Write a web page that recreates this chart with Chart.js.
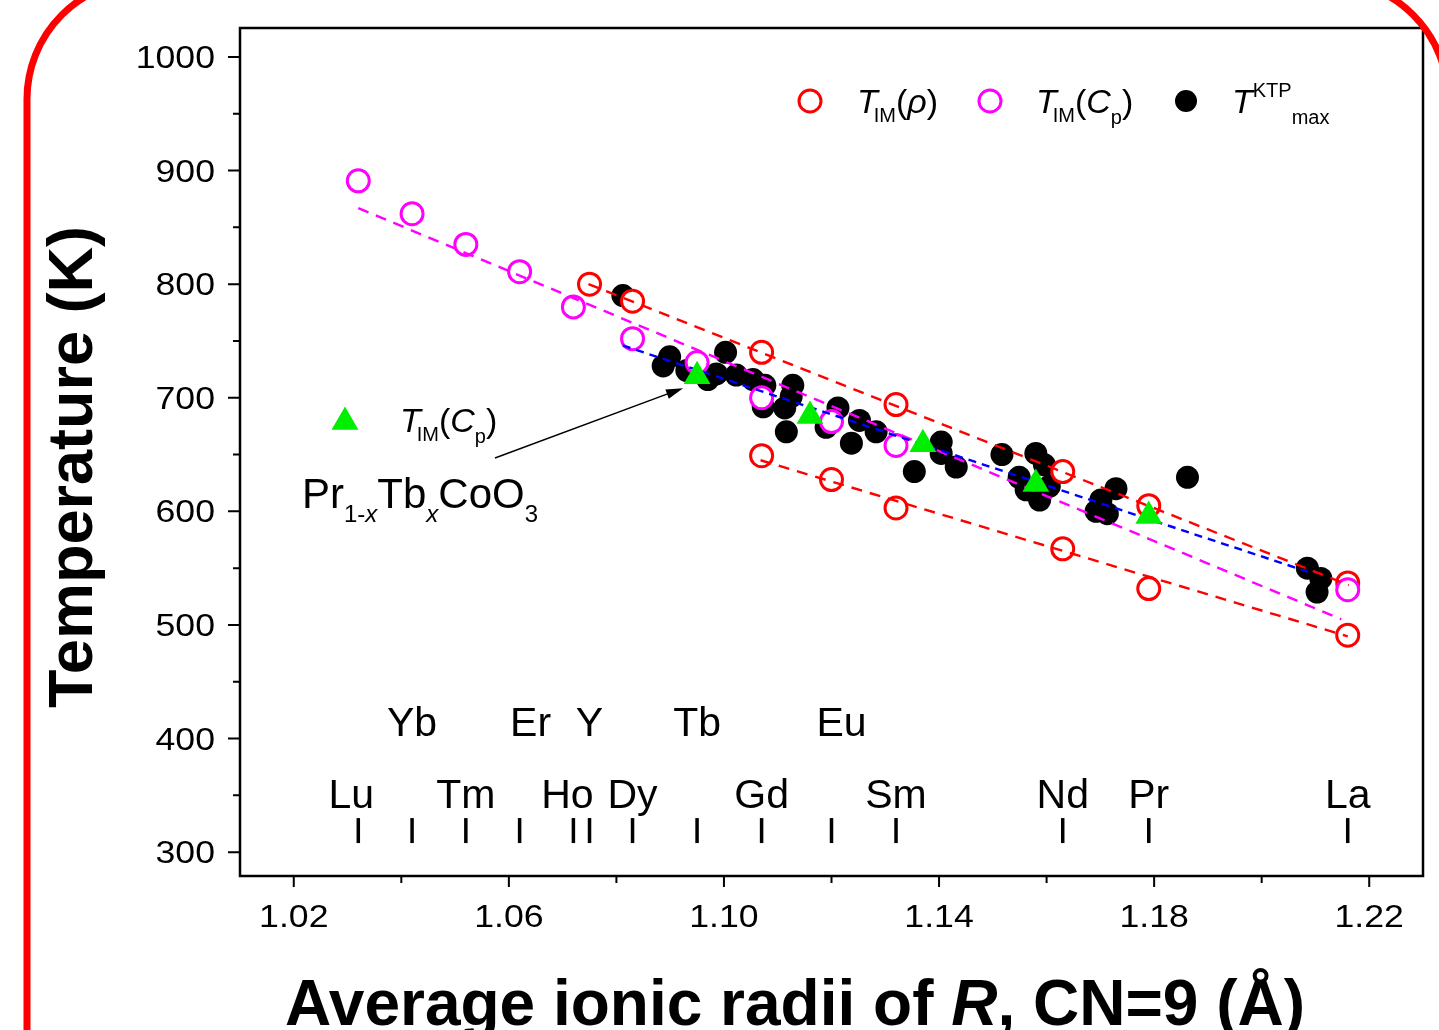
<!DOCTYPE html>
<html>
<head>
<meta charset="utf-8">
<script src="https://cdn.jsdelivr.net/npm/chart.js@4.4.1/dist/chart.umd.min.js"></script>
<style>
  html, body { margin: 0; padding: 0; background: #fff; }
  #wrap { width: 1439px; height: 1030px; position: relative; }
</style>
</head>
<body>
<div id="wrap"><canvas id="myChart"></canvas></div>
<script>
// T_IM from heat capacity (magenta open circles), RCoO3
const cpRadius = [1.032, 1.042, 1.052, 1.062, 1.072, 1.083, 1.095, 1.107, 1.120, 1.132, 1.216];
const cpTemp = [891, 862, 835, 811, 780, 752, 731, 700, 679, 658, 531];

// T_IM from resistivity (red open circles)
const rhoRadius = [1.075, 1.083, 1.107, 1.132, 1.163, 1.179, 1.216, 1.107, 1.120, 1.132, 1.163, 1.179, 1.216];
const rhoTemp = [800, 785, 740, 694, 635, 605, 537, 649, 628, 603, 567, 532, 491];

// T^KTP_max (black dots)
const ktpRadius = [1.0812, 1.0899, 1.0887, 1.0931, 1.0970, 1.0986, 1.1003, 1.1023, 1.1054, 1.1076,
  1.1073, 1.1128, 1.1125, 1.1113, 1.1116, 1.1190, 1.1212, 1.1237, 1.1252, 1.1283,
  1.1354, 1.1404, 1.1404, 1.1432, 1.1517, 1.1580, 1.1596, 1.1549, 1.1562, 1.1587,
  1.1605, 1.1729, 1.1701, 1.1692, 1.1713, 1.1862, 1.2085, 1.2110, 1.2103];
const ktpTemp = [790, 736, 728, 724, 716, 721, 740, 720, 716, 711,
  692, 711, 701, 691, 670, 674, 691, 660, 680, 670,
  635, 661, 651, 639, 650, 651, 641, 630, 619, 610,
  622, 620, 610, 600, 598, 630, 550, 541, 529];

// Pr1-xTbxCoO3, T_IM(Cp) (green triangles)
const prtbRadius = [1.095, 1.116, 1.137, 1.158, 1.179];
const prtbTemp = [719, 684, 659, 624, 596];

// dashed fit lines (end points)
const fitCpX = [1.032, 1.2148], fitCpY = [867, 505];
const fitRhoHiX = [1.0748, 1.2162], fitRhoHiY = [800, 535];
const fitRhoLoX = [1.1068, 1.216], fitRhoLoY = [645, 490];
const fitPrTbX = [1.0812, 1.2085], fitPrTbY = [746, 547];

// rare earth ionic radii, CN=9
const elemNames = ["Lu", "Yb", "Tm", "Er", "Ho", "Y", "Dy", "Tb", "Gd", "Eu", "Sm", "Nd", "Pr", "La"];
const elemRadius = [1.032, 1.042, 1.052, 1.062, 1.072, 1.075, 1.083, 1.095, 1.107, 1.120, 1.132, 1.163, 1.179, 1.216];
const upperRow = ["Yb", "Er", "Y", "Tb", "Eu"];

// axes
const xTicks = [1.02, 1.06, 1.10, 1.14, 1.18, 1.22];
const xMinorTicks = [1.04, 1.08, 1.12, 1.16, 1.20];
const yTicks = [300, 400, 500, 600, 700, 800, 900, 1000];
const yMinorTicks = [350, 450, 550, 650, 750, 850, 950];

const FF = '"Liberation Sans", Arial, sans-serif';
const RED = "#ff0000", MAG = "#ff00ff", GRN = "#00ee00", BLU = "#0000ff";

const toPts = (xs, ys) => xs.map((x, i) => ({x: x, y: ys[i]}));

function rich(ctx, x, y, parts) {
  parts.forEach((p) => {
    ctx.font = p.f;
    x += p.dx || 0;
    ctx.fillText(p.t, x, y + (p.dy || 0));
    x += ctx.measureText(p.t).width;
  });
  return x;
}

function circle(ctx, x, y, r, color, filled) {
  ctx.beginPath();
  ctx.arc(x, y, r, 0, Math.PI * 2);
  if (filled) { ctx.fillStyle = color; ctx.fill(); }
  else { ctx.fillStyle = "#fff"; ctx.fill(); ctx.lineWidth = 3; ctx.strokeStyle = color; ctx.stroke(); }
  ctx.fillStyle = "#000";
}

// tick labels in the figure are a little wider than Arial
function wide(ctx, text, x, y, align) {
  ctx.save();
  ctx.translate(x, y);
  ctx.scale(1.15, 1);
  ctx.textAlign = align;
  ctx.fillText(text, 0, 0);
  ctx.restore();
}

const decor = {
  id: "decor",
  beforeDraw(c) {
    const ctx = c.ctx;
    ctx.save();
    ctx.fillStyle = "#fff";
    ctx.fillRect(0, 0, c.width, c.height);
    ctx.restore();
  },
  afterDraw(c) {
    const ctx = c.ctx, a = c.chartArea, sx = c.scales.x, sy = c.scales.y;
    ctx.save();

    // plot box + ticks
    ctx.strokeStyle = "#000";
    ctx.lineWidth = 2.5;
    ctx.strokeRect(a.left, a.top, a.right - a.left, a.bottom - a.top);
    ctx.lineWidth = 2;
    ctx.beginPath();
    yTicks.forEach((v) => { const y = sy.getPixelForValue(v); ctx.moveTo(a.left, y); ctx.lineTo(a.left - 12, y); });
    yMinorTicks.forEach((v) => { const y = sy.getPixelForValue(v); ctx.moveTo(a.left, y); ctx.lineTo(a.left - 7, y); });
    xTicks.forEach((v) => { const x = sx.getPixelForValue(v); ctx.moveTo(x, a.bottom); ctx.lineTo(x, a.bottom + 11); });
    xMinorTicks.forEach((v) => { const x = sx.getPixelForValue(v); ctx.moveTo(x, a.bottom); ctx.lineTo(x, a.bottom + 7); });
    ctx.stroke();

    // tick labels
    ctx.fillStyle = "#000";
    ctx.font = "31px " + FF;
    ctx.textBaseline = "alphabetic";
    yTicks.forEach((v) => wide(ctx, String(v), a.left - 25, sy.getPixelForValue(v) + 11, "right"));
    xTicks.forEach((v) => wide(ctx, v.toFixed(2), sx.getPixelForValue(v), a.bottom + 51, "center"));

    // element labels
    ctx.font = "41px " + FF;
    ctx.textAlign = "center";
    const shift = {Lu: -7, Ho: -6, Er: 11, Eu: 10};
    elemNames.forEach((n, i) => {
      const up = upperRow.includes(n);
      ctx.fillText(n, sx.getPixelForValue(elemRadius[i]) + (shift[n] || 0), sy.getPixelForValue(up ? 402 : 339));
    });

    // legend, top right
    ctx.textAlign = "left";
    const it = "italic 34px " + FF, nm = "34px " + FF, sm = "20px " + FF;
    circle(ctx, 810, 101, 11, RED, false);
    rich(ctx, 857, 113, [{t: "T", f: it}, {t: "IM", f: sm, dy: 9, dx: -4}, {t: "(", f: nm}, {t: "ρ", f: it}, {t: ")", f: nm}]);
    circle(ctx, 990, 101, 11, MAG, false);
    rich(ctx, 1036, 113, [{t: "T", f: it}, {t: "IM", f: sm, dy: 9, dx: -4}, {t: "(", f: nm}, {t: "C", f: it}, {t: "p", f: sm, dy: 11}, {t: ")", f: nm}]);
    circle(ctx, 1186, 101, 11, "#000", true);
    const kx = rich(ctx, 1232, 113, [{t: "T", f: it}, {t: "KTP", f: sm, dy: -16}]);
    rich(ctx, kx, 124, [{t: "max", f: sm}]);

    // Pr1-xTbxCoO3 annotation
    const tx = 345, ty = 422, tr = 15.5;
    ctx.fillStyle = GRN;
    ctx.beginPath();
    ctx.moveTo(tx, ty - tr);
    ctx.lineTo(tx + tr * 0.866, ty + tr / 2);
    ctx.lineTo(tx - tr * 0.866, ty + tr / 2);
    ctx.closePath();
    ctx.fill();
    ctx.fillStyle = "#000";
    rich(ctx, 400, 432, [{t: "T", f: it}, {t: "IM", f: sm, dy: 9, dx: -4}, {t: "(", f: nm}, {t: "C", f: it}, {t: "p", f: sm, dy: 11}, {t: ")", f: nm}]);
    const bg = "42px " + FF, sb = "24px " + FF, si = "italic 24px " + FF;
    rich(ctx, 302, 508, [{t: "Pr", f: bg}, {t: "1-", f: sb, dy: 14}, {t: "x", f: si, dy: 14}, {t: "Tb", f: bg},
      {t: "x", f: si, dy: 14}, {t: "CoO", f: bg}, {t: "3", f: sb, dy: 14}]);

    // arrow to the Tb point
    const ex = sx.getPixelForValue(prtbRadius[0]) - 14, ey = sy.getPixelForValue(prtbTemp[0]) + 12;
    const sx0 = 495, sy0 = 458;
    const ang = Math.atan2(ey - sy0, ex - sx0);
    ctx.strokeStyle = "#000";
    ctx.lineWidth = 1.5;
    ctx.beginPath();
    ctx.moveTo(sx0, sy0);
    ctx.lineTo(ex - Math.cos(ang) * 10, ey - Math.sin(ang) * 10);
    ctx.stroke();
    ctx.beginPath();
    ctx.moveTo(ex, ey);
    ctx.lineTo(ex - 17 * Math.cos(ang) + 5 * Math.sin(ang), ey - 17 * Math.sin(ang) - 5 * Math.cos(ang));
    ctx.lineTo(ex - 17 * Math.cos(ang) - 5 * Math.sin(ang), ey - 17 * Math.sin(ang) + 5 * Math.cos(ang));
    ctx.closePath();
    ctx.fill();

    // axis titles
    ctx.save();
    ctx.translate(92, 467);
    ctx.rotate(-Math.PI / 2);
    ctx.textAlign = "center";
    ctx.font = "bold 63px " + FF;
    ctx.fillText("Temperature (K)", 0, 0);
    ctx.restore();

    ctx.textAlign = "left";
    const tb = "bold 64px " + FF, tbi = "italic bold 64px " + FF;
    const parts = [{t: "Average ionic radii of ", f: tb}, {t: "R", f: tbi}, {t: ", CN=9 (Å)", f: tb}];
    let w = 0;
    parts.forEach((p) => { ctx.font = p.f; w += ctx.measureText(p.t).width; });
    rich(ctx, 795 - w / 2, 1025, parts);

    // red rounded frame
    ctx.strokeStyle = RED;
    ctx.lineWidth = 7;
    ctx.beginPath();
    ctx.moveTo(27, 1060);
    ctx.lineTo(27, 99);
    ctx.arc(146, 99, 119, Math.PI, Math.PI * 1.5);
    ctx.lineTo(1329, -20);
    ctx.arc(1329, 99, 119, Math.PI * 1.5, Math.PI * 2);
    ctx.lineTo(1448, 1060);
    ctx.stroke();

    ctx.restore();
  }
};

const fitLine = (xs, ys, color, dash) => ({
  data: toPts(xs, ys), showLine: true, pointRadius: 0, borderColor: color,
  borderWidth: 2.4, borderDash: dash, fill: false
});

new Chart(document.getElementById("myChart"), {
  type: "scatter",
  data: {
    datasets: [
      {
        label: "Pr1-xTbxCoO3 TIM(Cp)", data: toPts(prtbRadius, prtbTemp), pointStyle: "triangle",
        pointRadius: 15.5, pointBackgroundColor: GRN, pointBorderColor: GRN, pointBorderWidth: 0
      },
      fitLine(fitPrTbX, fitPrTbY, BLU, [8, 6]),
      fitLine(fitCpX, fitCpY, MAG, [11, 8]),
      fitLine(fitRhoHiX, fitRhoHiY, RED, [11, 8]),
      fitLine(fitRhoLoX, fitRhoLoY, RED, [11, 8]),
      {
        label: "TIM(Cp)", data: toPts(cpRadius, cpTemp), pointStyle: "circle", pointRadius: 11,
        pointBorderWidth: 3, pointBorderColor: MAG, pointBackgroundColor: "#fff"
      },
      {
        label: "TIM(rho)", data: toPts(rhoRadius, rhoTemp), pointStyle: "circle", pointRadius: 11,
        pointBorderWidth: 3, pointBorderColor: RED, pointBackgroundColor: "#fff"
      },
      {
        label: "elements", data: elemRadius.map((x) => ({x: x, y: 319})), pointStyle: "line",
        pointRotation: 90, pointRadius: 12.5, pointBorderWidth: 3.5, pointBorderColor: "#000"
      },
      {
        label: "TKTPmax", data: toPts(ktpRadius, ktpTemp), pointStyle: "circle", pointRadius: 11.5,
        pointBorderWidth: 0, pointBackgroundColor: "#000", pointBorderColor: "#000"
      }
    ]
  },
  options: {
    responsive: true,
    maintainAspectRatio: false,
    animation: false,
    events: [],
    layout: {padding: {left: 0, top: 28, right: 16, bottom: 0}},
    plugins: {legend: {display: false}, tooltip: {enabled: false}},
    scales: {
      x: {
        type: "linear", min: 1.01, max: 1.23,
        grid: {display: false, drawTicks: false}, border: {display: false},
        ticks: {display: false},
        afterFit: (s) => { s.height = 154; }
      },
      y: {
        type: "linear", min: 279, max: 1025.5,
        grid: {display: false, drawTicks: false}, border: {display: false},
        ticks: {display: false},
        afterFit: (s) => { s.width = 240; }
      }
    }
  },
  plugins: [decor]
});
</script>
</body>
</html>
